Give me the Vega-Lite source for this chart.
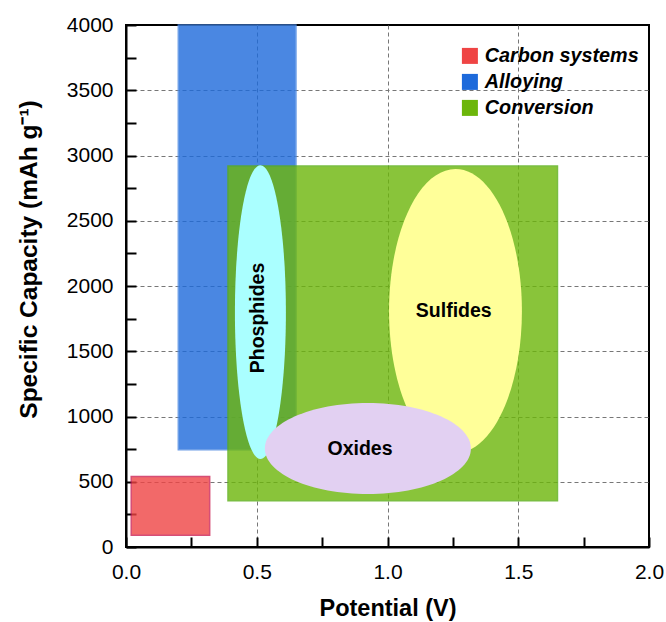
{
  "$schema": "https://vega.github.io/schema/vega-lite/v6.json",
  "width": 523,
  "height": 522,
  "autosize": "none",
  "padding": {"left": 126, "top": 25, "right": 17, "bottom": 75},
  "background": "white",
  "datasets": {
    "systems": [
      {"system": "Carbon systems", "x": 0.02, "x2": 0.32, "y": 90, "y2": 540},
      {"system": "Alloying", "x": 0.2, "x2": 0.65, "y": 745, "y2": 4000},
      {"system": "Conversion", "x": 0.39, "x2": 1.65, "y": 355, "y2": 2920}
    ],
    "materials": [
      {"name": "Phosphides", "x": 0.514, "y": 1800, "rx": 0.0975, "ry": 1126},
      {"name": "Sulfides", "x": 1.26, "y": 1808, "rx": 0.254, "ry": 1088},
      {"name": "Oxides", "x": 0.925, "y": 755, "rx": 0.394, "ry": 349}
    ],
    "labels": [
      {"name": "Phosphides", "x": 0.505, "y": 1755},
      {"name": "Sulfides", "x": 1.2535, "y": 1810},
      {"name": "Oxides", "x": 0.895, "y": 751}
    ]
  },
  "encoding": {
    "x": {
      "field": "x", "type": "quantitative",
      "scale": {"domain": [0, 2], "nice": false, "zero": false},
      "axis": {
        "title": "Potential (V)",
        "values": [0, 0.25, 0.5, 0.75, 1, 1.25, 1.5, 1.75, 2],
        "labelExpr": "datum.value % 0.5 === 0 ? format(datum.value, '.1f') : ''",
        "gridOpacity": {"condition": {"test": "datum.value % 0.5 === 0 && datum.value > 0 && datum.value < 2", "value": 1}, "value": 0},
        "labelPadding": 24,
        "titleY": 68,
        "encode": {"ticks": {"update": {"y2": {"signal": "datum.value % 0.5 === 0 ? -10 : -6"}}}}
      }
    },
    "y": {
      "field": "y", "type": "quantitative",
      "scale": {"domain": [0, 4000], "nice": false, "zero": false},
      "axis": {
        "title": "Specific Capacity (mAh g⁻¹)",
        "values": [0, 250, 500, 750, 1000, 1250, 1500, 1750, 2000, 2250, 2500, 2750, 3000, 3250, 3500, 3750, 4000],
        "labelExpr": "datum.value % 500 === 0 ? format(datum.value, 'd') : ''",
        "gridOpacity": {"condition": {"test": "datum.value % 500 === 0 && datum.value > 0 && datum.value < 4000", "value": 1}, "value": 0},
        "labelPadding": 23,
        "titleFontSize": 24.5,
        "titleAngle": -90,
        "titleAlign": "center",
        "titleX": -90,
        "titleY": 234,
        "encode": {"ticks": {"update": {"x2": {"signal": "datum.value % 500 === 0 ? 10 : 6"}}}}
      }
    }
  },
  "layer": [
    {
      "data": {"name": "systems"},
      "mark": {"type": "rect", "opacity": 0.8, "strokeWidth": 1.5},
      "encoding": {
        "x2": {"field": "x2"},
        "y2": {"field": "y2"},
        "color": {
          "field": "system", "type": "nominal",
          "scale": {"domain": ["Carbon systems", "Alloying", "Conversion"], "range": ["#ef4444", "#1d6adb", "#6cb60a"]},
          "legend": {
            "title": null,
            "orient": "none",
            "legendX": 334,
            "legendY": 21,
            "symbolType": "square",
            "symbolSize": 256,
            "symbolOpacity": 1,
            "symbolStrokeWidth": 0,
            "labelFontSize": 19.8,
            "labelFontStyle": "italic",
            "labelFontWeight": "bold",
            "labelColor": "black",
            "labelOffset": 5,
            "rowPadding": 5,
            "padding": 0
          }
        },
        "stroke": {
          "field": "system", "type": "nominal",
          "scale": {"domain": ["Carbon systems", "Alloying", "Conversion"], "range": ["#cc2255", "#4a88e2", "#5aae14"]},
          "legend": null
        }
      }
    },
    {
      "data": {"name": "materials"},
      "mark": {
        "type": "point",
        "filled": true,
        "opacity": 1,
        "strokeWidth": 0,
        "size": 4,
        "shape": {"expr": "'M ' + (-(scale('x', datum.x + datum.rx) - scale('x', datum.x))) + ' 0 A ' + (scale('x', datum.x + datum.rx) - scale('x', datum.x)) + ' ' + (scale('y', datum.y) - scale('y', datum.y + datum.ry)) + ' 0 1 1 ' + (scale('x', datum.x + datum.rx) - scale('x', datum.x)) + ' 0 A ' + (scale('x', datum.x + datum.rx) - scale('x', datum.x)) + ' ' + (scale('y', datum.y) - scale('y', datum.y + datum.ry)) + ' 0 1 1 ' + (-(scale('x', datum.x + datum.rx) - scale('x', datum.x))) + ' 0 Z'"}
      },
      "encoding": {
        "fill": {
          "field": "name", "type": "nominal",
          "scale": {"domain": ["Phosphides", "Sulfides", "Oxides"], "range": ["#aaffff", "#ffff99", "#e2d0f2"]},
          "legend": null
        }
      }
    },
    {
      "data": {"name": "labels"},
      "mark": {
        "type": "text",
        "fontSize": 19.5,
        "fontWeight": "bold",
        "color": "black",
        "align": "center",
        "baseline": "middle",
        "angle": {"expr": "datum.name === 'Phosphides' ? 270 : 0"}
      },
      "encoding": {
        "text": {"field": "name"}
      }
    }
  ],
  "config": {
    "font": "Liberation Sans",
    "view": {"stroke": "black", "strokeWidth": 2},
    "axis": {
      "grid": true,
      "gridDash": [4, 3],
      "gridColor": "#777777",
      "gridWidth": 1,
      "domainColor": "black",
      "domainWidth": 2,
      "tickColor": "black",
      "tickWidth": 2,
      "tickSize": -10,
      "labelFontSize": 21,
      "labelColor": "black",
      "labelFlush": false,
      "labelOverlap": false,
      "titleFontSize": 23.5,
      "titleFontWeight": "bold",
      "titleColor": "black",
      "titleBaseline": "alphabetic"
    }
  }
}
